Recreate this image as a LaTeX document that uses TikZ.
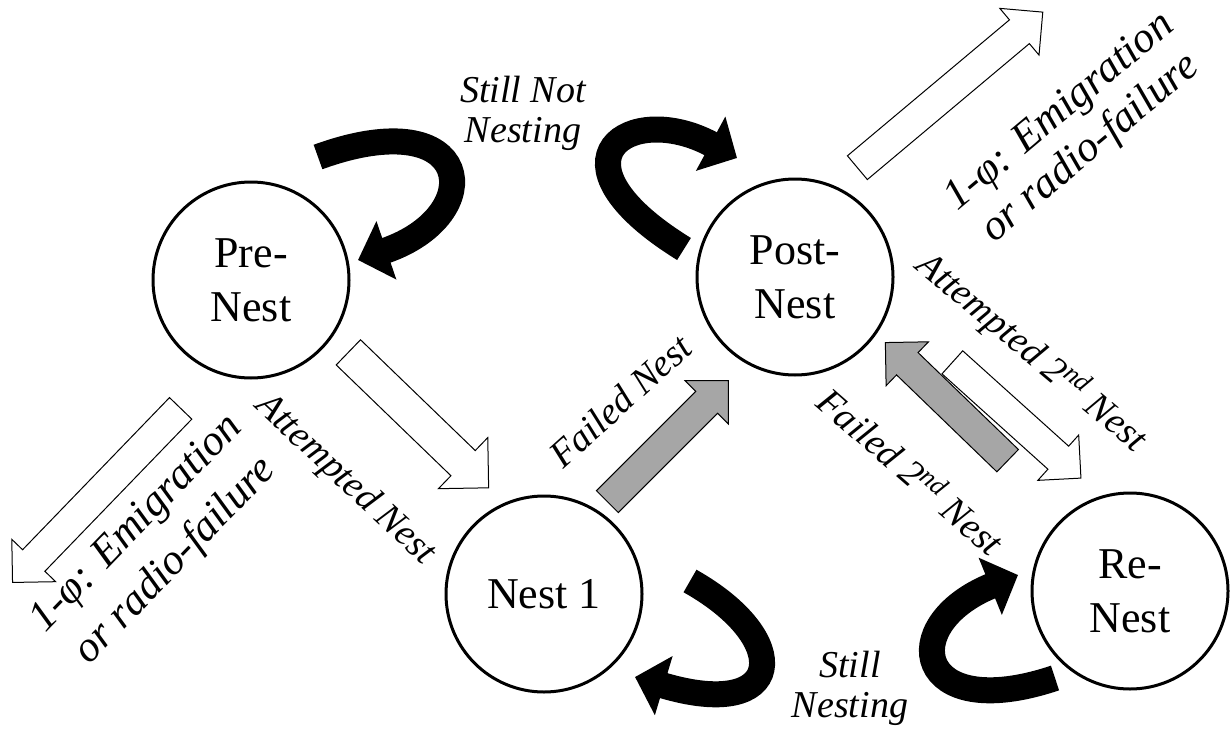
\documentclass[tikz,border=0pt]{standalone}
\usepackage{fontspec}
\setmainfont{Liberation Serif}
\usetikzlibrary{arrows.meta,shapes.arrows}
\tikzset{
  stagecircle/.style={circle,draw=black,line width=1.5pt,minimum size=98pt,
    inner sep=0pt,align=center,font=\fontsize{22}{27}\selectfont},
  translabel/.style={font=\itshape\fontsize{19}{20}\selectfont,align=center,inner sep=0pt},
  emiglabel/.style={font=\itshape\fontsize{21.5}{25}\selectfont,align=center,inner sep=0pt},
  hollowarrow/.style={single arrow,draw=black,line width=.5pt,fill=white,
    inner sep=7.5pt,single arrow head extend=7.5pt,single arrow tip angle=90,anchor=tail},
  greyarrow/.style={hollowarrow,fill=black!35},
  looparrow/.style={line width=13pt,-{Triangle[length=15pt,width=30pt]}}
}
\begin{document}
\begin{tikzpicture}[x=0.5pt,y=-0.5pt]
\useasboundingbox (0,0) rectangle (1230,738);
% states
\node[stagecircle] (prenest) at (251,280) {Pre-\\Nest};
\node[stagecircle] (postnest) at (795,277) {Post-\\Nest};
\node[stagecircle] (nestone) at (544,594) {Nest 1};
\node[stagecircle] (renest) at (1130,591) {Re-\\Nest};
% block arrows
\node[hollowarrow,inner sep=8.5pt,single arrow head extend=9pt,minimum height=97.5pt,rotate=-44] (attempt) at (348,352) {};
\node[hollowarrow,minimum height=121pt,rotate=-134] (emigleft) at (181,408) {};
\node[hollowarrow,minimum height=121pt,rotate=40] (emigright) at (857,168) {};
\node[greyarrow,minimum height=85.5pt,rotate=45] (failone) at (607,502) {};
\node[greyarrow,minimum height=85pt,rotate=136] (failtwo) at (1008,461) {};
\node[hollowarrow,minimum height=86.5pt,rotate=-42] (attempttwo) at (952,362) {};
% self loops
\coordinate (preloopstart) at (318,157);
\coordinate (preloopend) at (358,260);
\coordinate (postloopstart) at (684,249);
\coordinate (postloopend) at (737,158);
\coordinate (nestloopstart) at (690,581);
\coordinate (nestloopend) at (635,677);
\coordinate (reloopstart) at (1055,678);
\coordinate (reloopend) at (1018,575);
\draw[looparrow] (preloopstart) .. controls (475,100) and (490,215) .. (preloopend);
\draw[looparrow] (postloopstart) .. controls (540,160) and (630,100) .. (postloopend);
\draw[looparrow] (nestloopstart) .. controls (795,640) and (785,722) .. (nestloopend);
\draw[looparrow] (reloopstart) .. controls (915,725) and (895,625) .. (reloopend);
% labels
\node[translabel] (stillnot) at (523,113) {Still Not\\Nesting};
\node[translabel] (stillnest) at (850,688) {Still\\Nesting};
\node[translabel,rotate=-43] (attemptlbl) at (345,480) {Attempted Nest};
\node[translabel,rotate=42] (failonelbl) at (620,401) {Failed Nest};
\node[translabel,rotate=-41] (failtwolbl) at (912,470) {Failed 2\textsuperscript{nd} Nest};
\node[translabel,rotate=-40] (attempttwolbl) at (1032,352) {Attempted 2\textsuperscript{nd} Nest};
\node[emiglabel,rotate=46,font=\itshape\fontsize{21.5}{27}\selectfont] (emigleftlbl) at (157,543) {1-φ: Emigration\\or radio-failure};
\node[emiglabel,rotate=40,font=\itshape\fontsize{21.5}{24}\selectfont] (emigrightlbl) at (1076,131) {1-φ: Emigration\\or radio-failure};
\end{tikzpicture}
\end{document}
